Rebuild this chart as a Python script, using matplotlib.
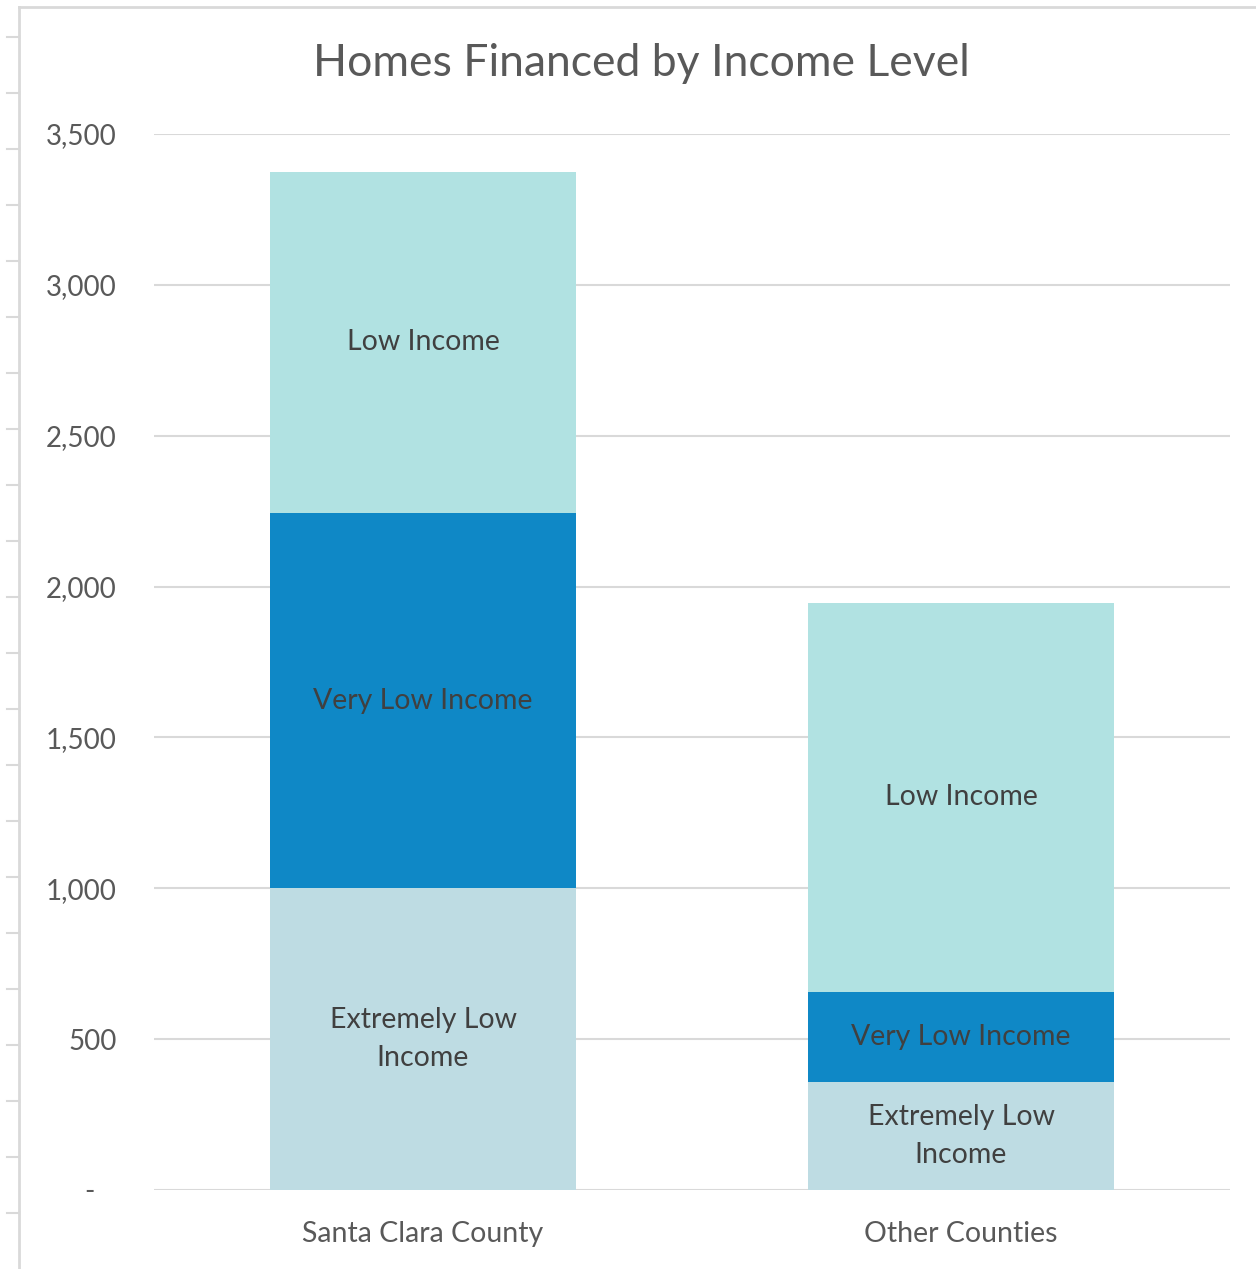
import numpy as np
import matplotlib.pyplot as plt
from matplotlib.lines import Line2D

plt.rcParams['font.family'] = ['Lato', 'DejaVu Sans']

# data
categories = ['Santa Clara County', 'Other Counties']
extremely_low = [1000, 358]
very_low = [1244, 298]
low = [1130, 1290]
series_names = ['Extremely Low\nIncome', 'Very Low Income', 'Low Income']
colors = ['#BEDCE3', '#0F88C6', '#B1E2E2']

yticks = [0, 500, 1000, 1500, 2000, 2500, 3000, 3500]
ytick_labels = ['-   ', '500', '1,000', '1,500', '2,000', '2,500', '3,000', '3,500']

fig = plt.figure(figsize=(12.56, 12.69), dpi=100)
ax = fig.add_axes([154/1256, 79/1269, 1076/1256, 1056/1269])

x = np.arange(len(categories))
bottom = np.zeros(len(categories))
for vals, name, c in zip([extremely_low, very_low, low], series_names, colors):
    bars = ax.bar(x, vals, width=0.567, bottom=bottom, color=c, zorder=2)
    for b, v, bt in zip(bars, vals, bottom):
        ax.text(b.get_x() + b.get_width()/2, bt + v/2, name, ha='center', va='center',
                fontsize=20.5, color='#404040', linespacing=1.6, zorder=3)
    bottom += np.array(vals)

ax.set_xlim(-0.5, 1.5)
ax.set_ylim(0, 3500)
ax.set_yticks(yticks)
ax.set_yticklabels(ytick_labels)
ax.yaxis.grid(True, color='#D9D9D9', linewidth=1.5, zorder=0)
ax.set_axisbelow(True)
ax.set_xticks(x)
ax.set_xticklabels(categories)
ax.tick_params(axis='both', length=0, labelsize=20.5, labelcolor='#595959')
ax.tick_params(axis='y', labelsize=20, pad=27)
ax.tick_params(axis='x', pad=22)
for s in ax.spines.values():
    s.set_visible(False)

fig.text(641/1256, 1 - 64/1269, 'Homes Financed by Income Level', ha='center', va='center',
         fontsize=32, color='#595959')

# frame of the sheet around the chart
fig.add_artist(Line2D([19/1256, 1], [1 - 7/1269] * 2, color='#D9D9D9', lw=2))
fig.add_artist(Line2D([19/1256] * 2, [0, 1 - 7/1269], color='#D9D9D9', lw=2))
for yy in np.arange(37, 1269, 56):
    fig.add_artist(Line2D([7/1256, 19/1256], [1 - yy/1269] * 2, color='#D9D9D9', lw=1.5))

fig.savefig('out.png', dpi=100)
